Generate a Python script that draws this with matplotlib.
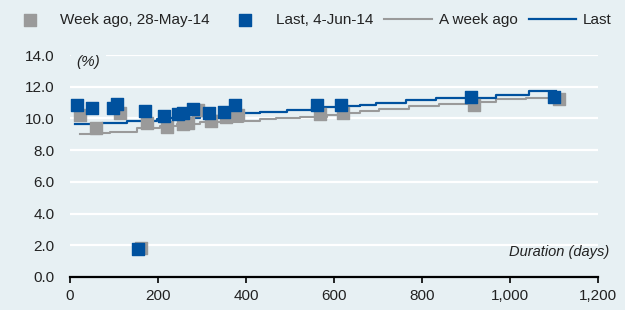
import matplotlib.pyplot as plt
import numpy as np

plt.rcParams['font.family'] = ['Liberation Sans', 'DejaVu Sans']

bg = '#e7f0f3'
blue = '#00519e'
grey = '#9a9a9a'

# fitted curves (step breakpoints: days, yield %)
curve_days = [11, 72, 129, 197, 227, 295, 370, 431, 492, 551, 612, 658, 696, 764, 832, 968, 1043, 1105]
last_curve = [9.65, 9.73, 9.84, 9.94, 10.04, 10.15, 10.32, 10.42, 10.53, 10.7, 10.8, 10.85, 11.0, 11.16, 11.29, 11.5, 11.7, 11.7]

week_days = [23, 68, 91, 152, 204, 243, 295, 392, 431, 469, 522, 583, 624, 658, 703, 771, 839, 930, 968, 1036, 1110]
week_curve = [9.02, 9.1, 9.16, 9.37, 9.52, 9.65, 9.77, 9.86, 9.94, 10.0, 10.1, 10.2, 10.35, 10.5, 10.6, 10.8, 10.9, 11.05, 11.22, 11.29, 11.37]

# observed yields
last_x = [15, 51, 98, 107, 155, 170, 214, 246, 256, 280, 315, 349, 374, 561, 616, 911, 1100]
last_y = [10.85, 10.64, 10.64, 10.9, 1.75, 10.49, 10.15, 10.28, 10.32, 10.57, 10.36, 10.42, 10.85, 10.85, 10.85, 11.33, 11.37]

week_x = [23, 58, 113, 162, 175, 221, 257, 268, 291, 321, 355, 382, 567, 620, 918, 1111]
week_y = [10.2, 9.37, 10.32, 1.8, 9.69, 9.48, 9.65, 9.69, 10.53, 9.86, 10.1, 10.2, 10.28, 10.32, 10.85, 11.2]

fig = plt.figure(figsize=(6.25, 3.1), dpi=100, facecolor=bg)
ax = fig.add_axes([0.112, 0.1065, 0.845, 0.716], facecolor=bg)

for v in [2, 4, 6, 8, 10, 12, 14]:
    ax.axhline(v, color='white', lw=1.6, zorder=0)

ax.plot(week_days, week_curve, drawstyle='steps-post', color=grey, lw=1.5, zorder=2, label='A week ago')
ax.plot(curve_days, last_curve, drawstyle='steps-post', color=blue, lw=1.6, zorder=2, label='Last')
ax.scatter(week_x, week_y, marker='s', s=85, color=grey, zorder=3, label='Week ago, 28-May-14')
ax.scatter(last_x, last_y, marker='s', s=85, color=blue, zorder=4, label='Last, 4-Jun-14')

ax.set_xlim(0, 1200)
ax.set_ylim(0, 14)
ax.set_xticks(np.arange(0, 1201, 200))
ax.set_xticklabels(['0', '200', '400', '600', '800', '1,000', '1,200'])
ax.set_yticks(np.arange(0, 15, 2))
ax.set_yticklabels([f'{v:.1f}' for v in range(0, 15, 2)])
ax.tick_params(axis='both', labelsize=11, colors='#222222')
ax.tick_params(axis='y', length=0, pad=11)
ax.tick_params(axis='x', length=4, width=1.2, color='black', pad=5)
for s in ['top', 'right', 'left']:
    ax.spines[s].set_visible(False)
ax.spines['bottom'].set_linewidth(1.6)
ax.spines['bottom'].set_color('black')
ax.spines['bottom'].set_zorder(5)

ax.text(15, 13.55, '(%)', style='italic', fontsize=11, color='#222222', va='center',
        bbox=dict(facecolor=bg, edgecolor='none', pad=4), zorder=1)
ax.text(1225, 1.55, 'Duration (days)', style='italic', fontsize=10.5, color='#222222',
        ha='right', va='center', clip_on=False)

h, l = ax.get_legend_handles_labels()
order = [2, 3, 0, 1]
fig.legend([h[i] for i in order], [l[i] for i in order], ncol=4, frameon=False,
           loc='center left', bbox_to_anchor=(0.0096, 0.935), fontsize=11,
           borderpad=0, borderaxespad=0,
           handlelength=3.1, columnspacing=0.75, handletextpad=0.45, scatterpoints=1,
           labelcolor='#222222')

fig.savefig('out.png', dpi=100, facecolor=bg)
